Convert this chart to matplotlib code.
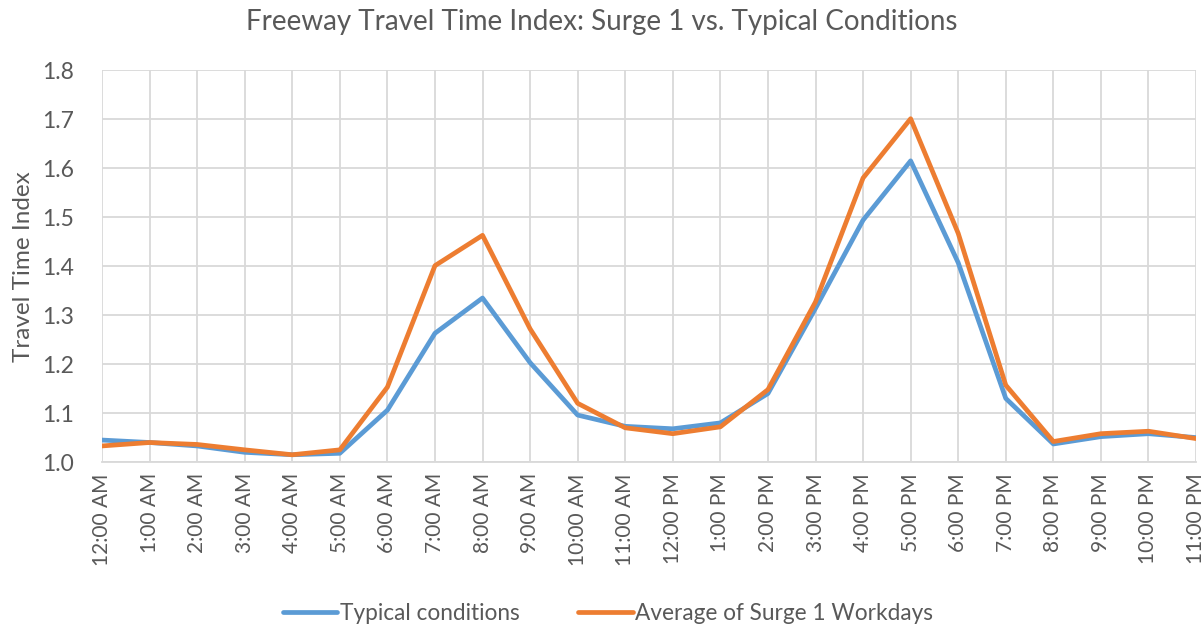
import matplotlib
matplotlib.use("Agg")
import matplotlib.pyplot as plt

hours = ["12:00 AM", "1:00 AM", "2:00 AM", "3:00 AM", "4:00 AM", "5:00 AM",
         "6:00 AM", "7:00 AM", "8:00 AM", "9:00 AM", "10:00 AM", "11:00 AM",
         "12:00 PM", "1:00 PM", "2:00 PM", "3:00 PM", "4:00 PM", "5:00 PM",
         "6:00 PM", "7:00 PM", "8:00 PM", "9:00 PM", "10:00 PM", "11:00 PM"]
typical = [1.045, 1.040, 1.033, 1.020, 1.015, 1.018, 1.106, 1.263, 1.335, 1.203,
           1.096, 1.073, 1.068, 1.080, 1.140, 1.314, 1.494, 1.615, 1.407, 1.130,
           1.037, 1.052, 1.058, 1.050]
surge = [1.033, 1.040, 1.036, 1.025, 1.015, 1.025, 1.153, 1.401, 1.463, 1.272,
         1.120, 1.070, 1.058, 1.072, 1.148, 1.327, 1.580, 1.701, 1.467, 1.157,
         1.042, 1.058, 1.063, 1.048]

plt.rcParams['font.family'] = ['Lato', 'DejaVu Sans']
grey = '#595959'

fig = plt.figure(figsize=(12.04, 6.27), dpi=100)
ax = fig.add_axes([0.0847, 0.263, 0.9087, 0.625])

x = range(len(hours))
ax.plot(x, typical, color='#5B9BD5', lw=3.4, label='Typical conditions', solid_capstyle='round')
ax.plot(x, surge, color='#ED7D31', lw=3.4, label='Average of Surge 1 Workdays', solid_capstyle='round')

ax.set_xlim(0, len(hours) - 1)
ax.set_ylim(1.0, 1.8)
ax.set_yticks([1.0 + 0.1 * i for i in range(9)])
ax.set_yticklabels([f"{1.0 + 0.1 * i:.1f}" for i in range(9)])
ax.set_xticks(list(x))
ax.set_xticklabels(hours, rotation=90)
ax.tick_params(axis='both', length=0, colors=grey)
ax.tick_params(axis='x', pad=8, labelsize=15)
ax.tick_params(axis='y', pad=20, labelsize=16.5)

ax.grid(True, color='#D9D9D9', lw=1.3)
ax.set_axisbelow(True)
for s in ['top', 'right', 'left']:
    ax.spines[s].set_visible(False)
ax.spines['bottom'].set_color('#D9D9D9')
ax.spines['bottom'].set_linewidth(1.3)

ax.set_ylabel('Travel Time Index', color=grey, fontsize=17.5, labelpad=6)
fig.text(0.5, 0.965, 'Freeway Travel Time Index: Surge 1 vs. Typical Conditions',
         ha='center', va='center', color=grey, fontsize=20)

fig.legend(loc='center', bbox_to_anchor=(0.505, 0.022), ncol=2, frameon=False,
           fontsize=16.3, labelcolor=grey, handlelength=2.4, handletextpad=0.1,
           columnspacing=2.6)

fig.savefig('out.png', dpi=100)
